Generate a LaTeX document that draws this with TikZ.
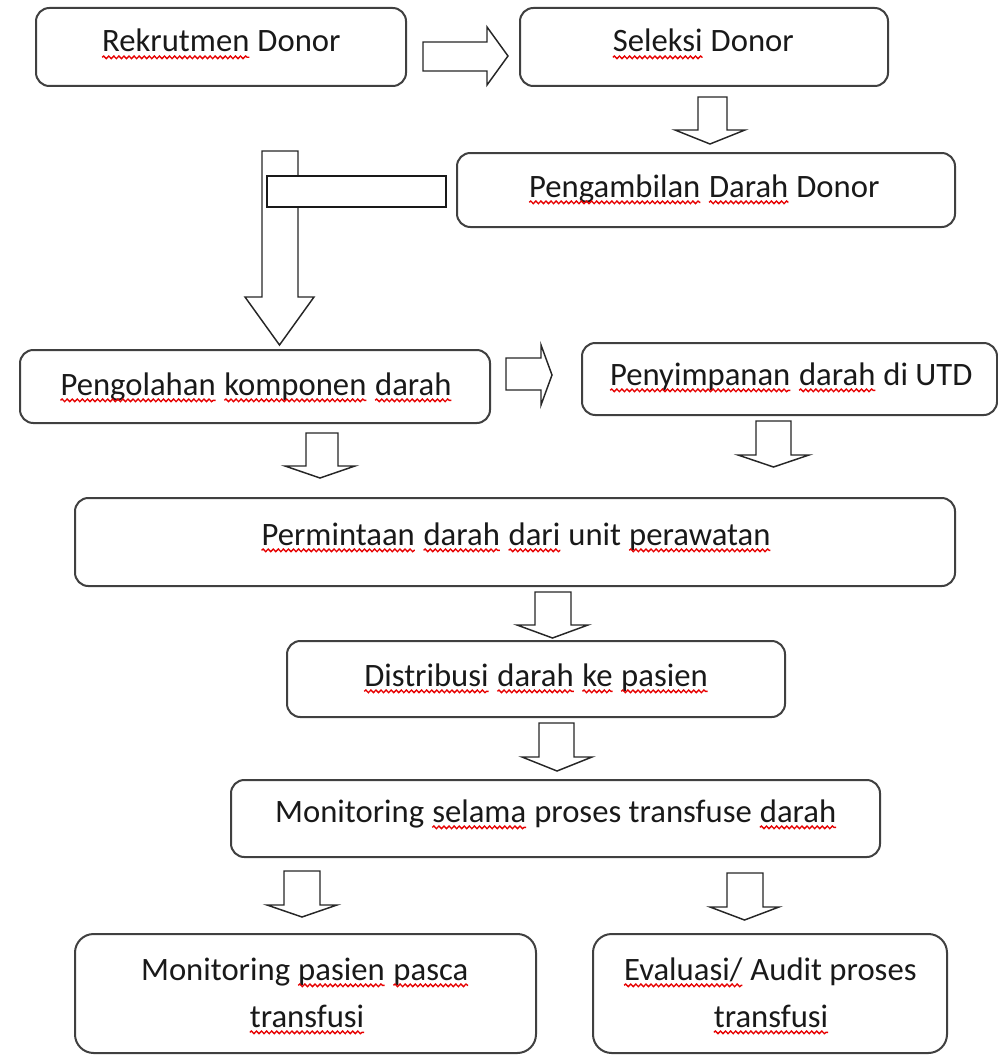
\documentclass[tikz,border=0pt]{standalone}
\usepackage{fontspec}
\setmainfont{Carlito}
\usetikzlibrary{fit,decorations.pathmorphing}
\definecolor{sqred}{RGB}{230,0,0}
\newcommand\sq[1]{\tikz[baseline=(sqw.base)]{\node[inner sep=0pt,outer sep=0pt,anchor=base] (sqw) {#1};\draw[sqred, line width=1pt, decorate, decoration={snake, amplitude=1pt, segment length=3.8pt}] ([yshift=-4pt]sqw.base west) -- ([yshift=-4pt]sqw.base east);}}
% down block arrow: shaft x1, shaft x2, top y, head-start y, head x1, head x2, tip y
\newcommand\dnarrow[7]{\draw[barrow] (#1,#3) -- (#2,#3) -- (#2,#4) -- (#6,#4) -- ({(#5+#6)/2},#7) -- (#5,#4) -- (#1,#4) -- cycle;}
% right block arrow: shaft x, shaft y1, shaft y2, head-start x, head y1, head y2, tip x
\newcommand\rtarrow[7]{\draw[barrow] (#1,#2) -- (#4,#2) -- (#4,#5) -- (#7,{(#5+#6)/2}) -- (#4,#6) -- (#4,#3) -- (#1,#3) -- cycle;}
\begin{document}
\begin{tikzpicture}[x=0.75pt,y=-0.75pt,
  box/.style={draw=black!75, line width=1.5pt, rounded corners=10pt, inner sep=0pt},
  bigbox/.style={box, rounded corners=14pt},
  txt/.style={anchor=base, inner sep=0pt, font=\fontsize{24.5pt}{35pt}\selectfont, text=black!90},
  barrow/.style={draw=black!85, line width=1.1pt, fill=white, line join=miter},
  plainbar/.style={draw=black!90, line width=1.1pt, fill=white, inner sep=0pt}]
\useasboundingbox (0,0) rectangle (998,1056);

% boxes
\node[box, fit={(36,8)(406,86)}] (rek) {};
\node[box, fit={(520,8)(888,86)}] (sel) {};
\node[box, fit={(457,153)(955,227)}] (amb) {};
\node[box, fit={(20,350)(490,423)}] (olah) {};
\node[box, fit={(582,343)(997,415)}] (simp) {};
\node[box, fit={(75,498)(955,586)}] (minta) {};
\node[box, fit={(287,641)(785,717)}] (dist) {};
\node[box, fit={(231,780)(880,857)}] (mon) {};
\node[bigbox, fit={(75,934)(536,1053)}] (pasca) {};
\node[bigbox, fit={(593,934)(947,1053)}] (eval) {};

% texts
\node[txt] (trek) at (221,52) {\sq{Rekrutmen} Donor};
\node[txt] (tsel) at (703,52) {\sq{Seleksi} Donor};
\node[txt] (tamb) at (704,197) {\sq{Pengambilan} \sq{Darah} Donor};
\node[txt] (tolah) at (256,395) {\sq{Pengolahan} \sq{komponen} \sq{darah}};
\node[txt] (tsimp) at (791,385) {\sq{Penyimpanan} \sq{darah} di UTD};
\node[txt] (tminta) at (516,545) {\sq{Permintaan} \sq{darah} \sq{dari} unit \sq{perawatan}};
\node[txt] (tdist) at (536,686) {\sq{Distribusi} \sq{darah} \sq{ke} \sq{pasien}};
\node[txt] (tmon) at (556,822) {Monitoring \sq{selama} proses transfuse \sq{darah}};
\node[txt] (tpasca1) at (305,980) {Monitoring \sq{pasien} \sq{pasca}};
\node[txt] (tpasca2) at (307,1027) {\sq{transfusi}};
\node[txt] (teval1) at (770,980) {\sq{Evaluasi/} Audit proses};
\node[txt] (teval2) at (771,1027) {\sq{transfusi}};

% block arrows
\rtarrow{423}{42}{71}{487}{27}{85}{508}
\dnarrow{698}{727}{97}{130}{675}{745}{144}
\dnarrow{262}{298}{151}{297}{245}{314}{345}
\node[plainbar, fit={(267,176)(446,207)}] (bar) {};
\rtarrow{506}{358}{390}{541}{345}{405}{552}
\dnarrow{306}{338}{433}{466}{285}{355}{478}
\dnarrow{756}{791}{421}{455}{738}{809}{467}
\dnarrow{535}{571}{592}{625}{517}{588}{638}
\dnarrow{539}{574}{723}{757}{522}{592}{771}
\dnarrow{284}{320}{871}{905}{267}{337}{917}
\dnarrow{727}{763}{873}{907}{710}{779}{920}
\end{tikzpicture}
\end{document}
